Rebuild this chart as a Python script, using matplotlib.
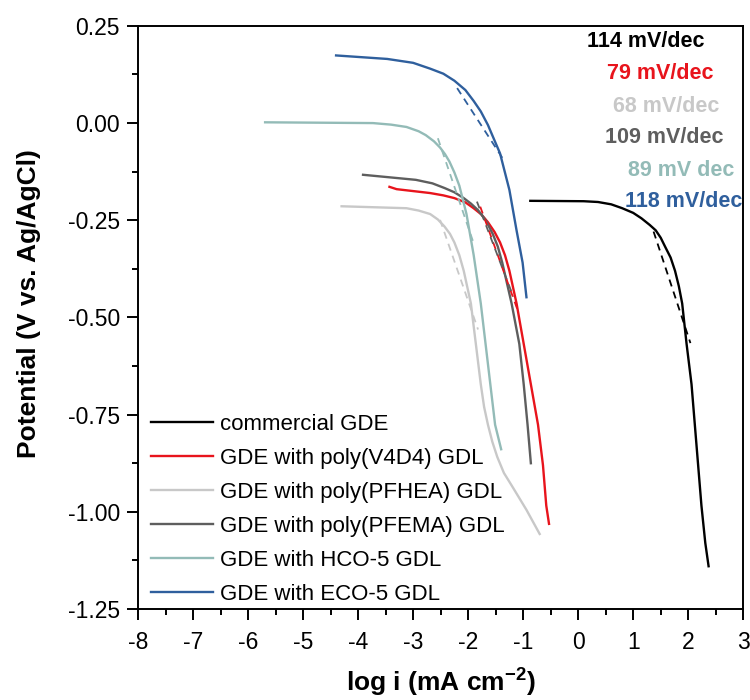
import matplotlib
matplotlib.use("Agg")
import matplotlib.pyplot as plt
from matplotlib.ticker import MultipleLocator

plt.rcParams['font.family'] = ['Liberation Sans', 'DejaVu Sans']
plt.rcParams['mathtext.fontset'] = 'custom'
plt.rcParams['mathtext.rm'] = 'Liberation Sans'
plt.rcParams['mathtext.bf'] = 'Liberation Sans:bold'

# -------------------------
# Tafel curves
# -------------------------

labels = ["commercial GDE", "GDE with poly(V4D4) GDL", "GDE with poly(PFHEA) GDL",
          "GDE with poly(PFEMA) GDL", "GDE with HCO-5 GDL", "GDE with ECO-5 GDL"]
colors = ["#000000", "#e8141c", "#c8c8c8", "#5e5e5e", "#93bbb7", "#2f5f9d"]

commercial_x = [-0.87, 0.10, 0.36, 0.60, 0.80, 1.00, 1.15, 1.30, 1.41, 1.50, 1.58, 1.68, 1.76,
                1.83, 1.89, 1.97, 2.06, 2.15, 2.24, 2.31, 2.37]
commercial_y = [-0.200, -0.201, -0.203, -0.209, -0.219, -0.231, -0.245, -0.262, -0.276, -0.295,
                -0.318, -0.346, -0.380, -0.420, -0.464, -0.568, -0.672, -0.828, -0.984, -1.080, -1.140]

v4d4_x = [-3.43, -3.30, -2.69, -2.45, -2.25, -2.05, -1.90, -1.76, -1.64, -1.52, -1.42, -1.33,
          -1.25, -1.12, -0.99, -0.86, -0.73, -0.64, -0.58, -0.53]
v4d4_y = [-0.164, -0.170, -0.180, -0.186, -0.193, -0.204, -0.219, -0.235, -0.255, -0.280, -0.307,
          -0.340, -0.380, -0.464, -0.568, -0.672, -0.776, -0.880, -0.984, -1.031]

pfhea_x = [-4.30, -3.12, -2.90, -2.69, -2.55, -2.43, -2.33, -2.25, -2.16, -2.08, -1.95, -1.86,
           -1.77, -1.71, -1.64, -1.56, -1.47, -1.35, -1.21, -0.94, -0.70]
pfhea_y = [-0.214, -0.219, -0.225, -0.234, -0.248, -0.266, -0.285, -0.307, -0.340, -0.380, -0.464,
           -0.568, -0.672, -0.730, -0.776, -0.820, -0.859, -0.900, -0.932, -0.995, -1.057]

pfema_x = [-3.91, -2.95, -2.65, -2.43, -2.25, -2.08, -1.95, -1.82, -1.68, -1.55, -1.46, -1.38,
           -1.21, -1.07, -0.99, -0.92, -0.86]
pfema_y = [-0.133, -0.146, -0.155, -0.167, -0.178, -0.193, -0.207, -0.224, -0.250, -0.286, -0.318,
           -0.359, -0.464, -0.568, -0.672, -0.776, -0.875]

hco_x = [-5.69, -3.73, -3.40, -3.12, -2.90, -2.77, -2.62, -2.51, -2.42, -2.34, -2.25, -2.16,
         -2.03, -1.90, -1.77, -1.64, -1.51, -1.40]
hco_y = [0.002, 0.000, -0.004, -0.010, -0.021, -0.031, -0.047, -0.063, -0.080, -0.099, -0.127,
         -0.161, -0.234, -0.339, -0.464, -0.620, -0.776, -0.839]

eco_x = [-4.40, -3.47, -3.00, -2.69, -2.45, -2.25, -2.05, -1.90, -1.77, -1.64, -1.42, -1.25,
         -1.12, -1.01, -0.94]
eco_y = [0.174, 0.165, 0.155, 0.140, 0.127, 0.109, 0.085, 0.057, 0.030, -0.005, -0.078, -0.172,
         -0.276, -0.359, -0.448]

xs = [commercial_x, v4d4_x, pfhea_x, pfema_x, hco_x, eco_x]
ys = [commercial_y, v4d4_y, pfhea_y, pfema_y, hco_y, eco_y]

# Tafel fit segments
fit_x = [[1.37, 2.04], [-1.78, -1.08], [-2.51, -1.82], [-1.84, -1.18], [-2.55, -1.90], [-2.2, -1.33]]
fit_y = [[-0.279, -0.566], [-0.215, -0.489], [-0.249, -0.531], [-0.202, -0.446], [-0.039, -0.309], [0.09, -0.10]]

slopes = ["114 mV/dec", "79 mV/dec", "68 mV/dec", "109 mV/dec", "89 mV dec", "118 mV/dec"]
slope_x = [0.164, 0.527, 0.636, 0.491, 0.909, 0.855]
slope_y = [0.210, 0.128, 0.043, -0.038, -0.122, -0.202]

# -------------------------
# Plot
# -------------------------

fig = plt.figure(figsize=(7.5, 7.0), dpi=100)
ax = fig.add_axes([0.184, 0.13, 0.807, 0.833])

for x, y, c, lab in zip(xs, ys, colors, labels):
    ax.plot(x, y, color=c, lw=1.7, label=lab, solid_joinstyle='round')

for fx, fy, c in zip(fit_x, fit_y, colors):
    ax.plot(fx, fy, color=c, lw=1.3, ls=(0, (4, 3)))

for s, sx, sy, c in zip(slopes, slope_x, slope_y, colors):
    ax.text(sx, sy, s, color=c, fontsize=15.5, fontweight='bold', va='center', ha='left')

ax.set_xlim(-8, 3)
ax.set_ylim(-1.25, 0.25)
ax.xaxis.set_minor_locator(MultipleLocator(0.5))
ax.yaxis.set_minor_locator(MultipleLocator(0.125))
ax.set_yticks([0.25, 0.0, -0.25, -0.5, -0.75, -1.0, -1.25])
ax.set_yticklabels(["0.25", "0.00", "-0.25", "-0.50", "-0.75", "-1.00", "-1.25"])
ax.set_xticks(range(-8, 4))
ax.set_xticklabels([str(v) for v in range(-8, 4)])

ax.tick_params(which='major', direction='out', length=8, width=1.4, labelsize=16.5, pad=5)
ax.tick_params(axis='x', which='major', pad=8)
ax.tick_params(which='minor', direction='out', length=4.5, width=1.4)
for sp in ax.spines.values():
    sp.set_linewidth(1.4)

ax.set_xlabel(r"log i (mA cm$^{\mathbf{-2}}$)", fontsize=19, fontweight='bold', labelpad=8)
ax.set_ylabel("Potential (V vs. Ag/AgCl)", fontsize=19, fontweight='bold')
ax.yaxis.set_label_coords(-0.16, 0.523)

ax.legend(loc='lower left', frameon=False, fontsize=16, handlelength=2.8, handletextpad=0.3,
          labelspacing=0.58, borderaxespad=0.0, borderpad=0.2, bbox_to_anchor=(0.014, 0.0))

fig.savefig("out.png", dpi=100)
